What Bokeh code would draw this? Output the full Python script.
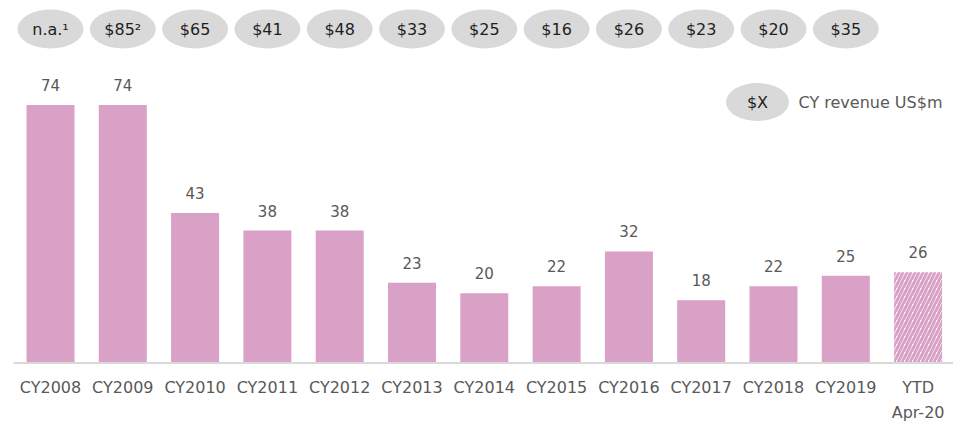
from bokeh.plotting import figure
from bokeh.models import ColumnDataSource, Range1d
from bokeh.core.properties import value
from bokeh.embed import file_html
from bokeh.resources import INLINE

# ---- data ----
categories = ["CY2008", "CY2009", "CY2010", "CY2011", "CY2012", "CY2013", "CY2014",
              "CY2015", "CY2016", "CY2017", "CY2018", "CY2019", "YTD\nApr-20"]
values = [74, 74, 43, 38, 38, 23, 20, 22, 32, 18, 22, 25, 26]
cy_revenue = ["n.a.\u00b9", "$85\u00b2", "$65", "$41", "$48", "$33", "$25", "$16",
              "$26", "$23", "$20", "$35"]
legend_symbol = "$X"
legend_text = "CY revenue US$m"

# ---- style ----
FONT = value("DejaVu Sans")
BAR = "#D8A1C5"
GREY_TXT = "#595959"
OVAL = "#D9D9D9"

W, H = 953, 422
PX_X = 72.3      # px per category
X0_PX = 50       # px of first category center
PX_Y = 3.486     # px per unit
BASE_PX = 362.5  # px of zero line

idx = list(range(len(categories)))
n_full = len(categories) - 1

xs = -X0_PX / PX_X
ys = -(H - BASE_PX) / PX_Y
p = figure(width=W, height=H, output_backend="svg", toolbar_location=None,
           x_range=Range1d(xs, xs + W / PX_X), y_range=Range1d(ys, ys + H / PX_Y),
           min_border=0, outline_line_color=None)
p.axis.visible = False
p.grid.visible = False

full = ColumnDataSource(dict(x=idx[:n_full], top=values[:n_full]))
ytd = ColumnDataSource(dict(x=idx[n_full:], top=values[n_full:]))

p.vbar(x="x", top="top", width=0.664, bottom=0, source=full,
       fill_color=BAR, line_color=None)
p.vbar(x="x", top="top", width=0.664, bottom=0, source=ytd,
       fill_color="white", line_color=None, hatch_pattern="/",
       hatch_color=BAR, hatch_weight=3, hatch_scale=8)

# baseline
p.segment(x0=[-0.51], x1=[len(categories) - 0.51], y0=[0], y1=[0],
          line_color="#D9D9D9", line_width=2)

# value labels
lab = ColumnDataSource(dict(x=idx, y=values, t=[str(v) for v in values]))
p.text(x="x", y="y", text="t", source=lab, text_align="center",
       text_baseline="alphabetic", y_offset=-20, text_font=FONT,
       text_font_size="15px", text_color=GREY_TXT)

# category labels
cat = ColumnDataSource(dict(x=idx, y=[0] * len(idx), t=categories))
p.text(x="x", y="y", text="t", source=cat, text_align="center",
       text_baseline="top", y_offset=15, text_font=FONT,
       text_font_size="16px", text_color=GREY_TXT, text_line_height=1.3)

# revenue ovals
OVAL_Y = (BASE_PX - 28.5) / PX_Y
ov = ColumnDataSource(dict(x=idx[:len(cy_revenue)], y=[OVAL_Y] * len(cy_revenue), t=cy_revenue))
p.ellipse(x="x", y="y", width=66, height=39, width_units="screen", height_units="screen",
          source=ov, fill_color=OVAL, line_color=None)
p.text(x="x", y="y", text="t", source=ov, text_align="center", text_baseline="middle",
       text_font=FONT, text_font_size="16px", text_color="#1F1F1F")

# legend
LY = (BASE_PX - 101.5) / PX_Y
LX = (757 - X0_PX) / PX_X
LTX = (798 - X0_PX) / PX_X
lg = ColumnDataSource(dict(x=[LX], y=[LY], t=[legend_symbol]))
p.ellipse(x="x", y="y", width=63, height=38, width_units="screen", height_units="screen",
          source=lg, fill_color=OVAL, line_color=None)
p.text(x="x", y="y", text="t", source=lg, text_align="center", text_baseline="middle",
       text_font=FONT, text_font_size="16px", text_color="#1F1F1F")
lt = ColumnDataSource(dict(x=[LTX], y=[LY], t=[legend_text]))
p.text(x="x", y="y", text="t", source=lt, text_align="left", text_baseline="middle",
       text_font=FONT, text_font_size="16px", text_color=GREY_TXT)

open("out.html", "w").write(file_html(p, INLINE))
